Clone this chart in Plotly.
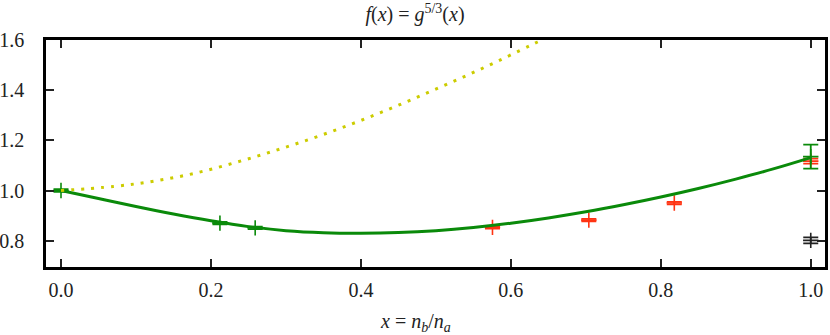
import plotly.graph_objects as go

# ---- data ----
fit_x = [0.0, 0.05, 0.1, 0.15, 0.2, 0.25, 0.3, 0.35, 0.4, 0.45, 0.5, 0.55, 0.6, 0.65, 0.7, 0.75, 0.8, 0.85, 0.9, 0.95, 1.0]
fit_y = [1.0, 0.968, 0.936, 0.906, 0.879, 0.856, 0.840, 0.832, 0.830, 0.8325, 0.840, 0.8525, 0.8695, 0.8905, 0.915, 0.943, 0.974, 1.008, 1.0455, 1.086, 1.131]

ref_x = [0.0, 0.0698, 0.1236, 0.1773, 0.2298, 0.2822, 0.3342, 0.3858, 0.4364, 0.4867, 0.5364, 0.5862, 0.6356, 0.641]
ref_y = [1.0, 1.016, 1.037, 1.068, 1.109, 1.156, 1.207, 1.263, 1.323, 1.387, 1.452, 1.521, 1.592, 1.600]

green_x = [0.0, 0.212, 0.259, 1.0]
green_y = [1.0, 0.870, 0.851, 1.135]
green_err = [0.005, 0.005, 0.005, 0.048]

red_x = [0.5755, 0.704, 0.818, 1.0]
red_y = [0.853, 0.882, 0.950, 1.117]
red_err = [0.005, 0.005, 0.005, 0.010]

black_x = [1.0]
black_y = [0.801]
black_err = [0.012]

x_ticks = [0.0, 0.2, 0.4, 0.6, 0.8, 1.0]
y_ticks = [0.8, 1.0, 1.2, 1.4, 1.6]

GREEN = "#0a8a0a"
RED = "#ff3312"
BLACK = "#222222"
YELLOW = "#cccc00"
FONT = "Liberation Serif, serif"

fig = go.Figure()


def pts(x, y, err, color):
    return go.Scatter(
        x=x, y=y, mode="markers",
        marker=dict(symbol="cross-thin", size=11, color=color,
                    line=dict(color=color, width=1.6)),
        error_y=dict(type="data", array=err, visible=True, color=color,
                     thickness=1.8, width=7.5),
        showlegend=False, hoverinfo="skip",
    )


fig.add_trace(pts(black_x, black_y, black_err, BLACK))
fig.add_trace(pts(red_x, red_y, red_err, RED))
fig.add_trace(go.Scatter(x=fit_x, y=fit_y, mode="lines",
                         line=dict(color=GREEN, width=3, shape="spline", smoothing=1.0),
                         showlegend=False, hoverinfo="skip"))
fig.add_trace(pts(green_x, green_y, green_err, GREEN))
fig.add_trace(go.Scatter(x=ref_x, y=ref_y, mode="lines",
                         line=dict(color=YELLOW, width=3, dash="3px,7px", shape="spline", smoothing=1.0),
                         showlegend=False, hoverinfo="skip"))

axis_common = dict(
    showline=True, linecolor="black", linewidth=2.5, mirror="allticks",
    ticks="inside", ticklen=8, tickwidth=1.5, tickcolor="#222",
    showgrid=False, zeroline=False, automargin=False,
    tickfont=dict(family=FONT, size=20, color="#222"),
    tickformat=".1f",
)

fig.update_xaxes(range=[-0.02, 1.019], tickvals=x_ticks, ticklabelstandoff=3, **axis_common)
fig.update_yaxes(range=[0.695, 1.6], tickvals=y_ticks, ticklabelstandoff=15, **axis_common)

fig.update_layout(
    width=830, height=335,
    margin=dict(l=46, r=5, t=40, b=68),
    plot_bgcolor="white", paper_bgcolor="white",
    font=dict(family=FONT, size=20, color="#222"),
    title=dict(text="<i>f</i>(<i>x</i>) = <i>g</i><sup>5/3</sup>(<i>x</i>)",
               x=0.5, xref="container", xanchor="center",
               y=1 - 14 / 335, yref="container", yanchor="middle",
               font=dict(family=FONT, size=20, color="#222")),
    annotations=[dict(
        text="<i>x</i> = <i>n</i><sub><i>b</i></sub>/<i>n</i><sub><i>a</i></sub>",
        x=(415 - 46) / 779, xref="paper", xanchor="center",
        y=(267 - 322) / 227, yref="paper", yanchor="middle",
        showarrow=False, font=dict(family=FONT, size=20, color="#222"),
    )],
)

fig.write_html("out.html", config={"displayModeBar": False},
               post_script="document.body.style.margin='0';")
